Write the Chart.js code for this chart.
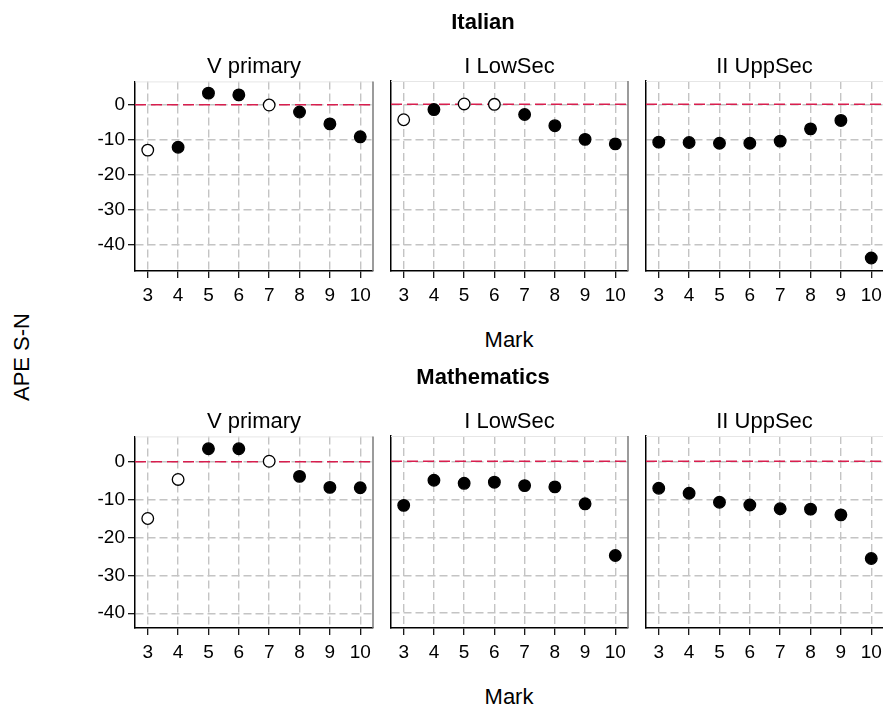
<!DOCTYPE html>
<html><head><meta charset="utf-8">
<script src="https://cdn.jsdelivr.net/npm/chart.js@4/dist/chart.umd.min.js"></script>
<style>
html,body{margin:0;padding:0;background:#fff;}
#wrap{position:relative;width:883px;height:704px;overflow:hidden;font-family:'Liberation Sans',Arial,sans-serif;color:#000;}
.t{position:absolute;white-space:nowrap;font-size:22px;line-height:22px;transform:translateX(-50%);}
.b{font-weight:bold;}
.rot{position:absolute;white-space:nowrap;font-size:22px;line-height:22px;transform:translate(-50%,-50%) rotate(-90deg);}
canvas{position:absolute;}
</style></head><body><div id="wrap"></div>
<script>
// ---- data ----
const marks = [3, 4, 5, 6, 7, 8, 9, 10];
const yTicks = [0, -10, -20, -30, -40];
const subjects = ['Italian', 'Mathematics'];
const levels = ['V primary', 'I LowSec', 'II UppSec'];
const xTitle = 'Mark';
const yTitle = 'APE S-N';
const refValue = 0;

const itaPrimary    = [-13.0, -12.2, 3.3, 2.8, -0.1, -2.1, -5.5, -9.2];
const itaPrimarySig = [0, 1, 1, 1, 0, 1, 1, 1];
const itaLowSec     = [-4.4, -1.5, 0.1, 0.0, -2.9, -6.1, -10.0, -11.3];
const itaLowSecSig  = [0, 1, 0, 0, 1, 1, 1, 1];
const itaUppSec     = [-10.8, -10.9, -11.1, -11.1, -10.5, -7.0, -4.6, -43.9];
const itaUppSecSig  = [1, 1, 1, 1, 1, 1, 1, 1];

const matPrimary    = [-15.0, -4.7, 3.4, 3.4, 0.1, -3.9, -6.8, -6.9];
const matPrimarySig = [0, 0, 1, 1, 0, 1, 1, 1];
const matLowSec     = [-11.6, -5.0, -5.8, -5.5, -6.4, -6.75, -11.2, -24.8];
const matLowSecSig  = [1, 1, 1, 1, 1, 1, 1, 1];
const matUppSec     = [-7.1, -8.4, -10.8, -11.5, -12.5, -12.6, -14.1, -25.6];
const matUppSecSig  = [1, 1, 1, 1, 1, 1, 1, 1];

const panelValues = [[itaPrimary, itaLowSec, itaUppSec], [matPrimary, matLowSec, matUppSec]];
const panelSig = [[itaPrimarySig, itaLowSecSig, itaUppSecSig], [matPrimarySig, matLowSecSig, matUppSecSig]];

// ---- layout ----
const FONT = "'Liberation Sans', Arial, sans-serif";
const cols = [{l:135, r:373}, {l:391, r:628}, {l:646, r:884}];
const rows = [{t:81, b:271, min:-47.6, max:6.66}, {t:436, b:628, min:-43.9, max:6.66}];
const xMin = 2.58, xMax = 10.42;
const wrap = document.getElementById('wrap');

function addText(txt, cx, baseline, cls){
  const d = document.createElement('div');
  d.className = 't ' + (cls || '');
  d.textContent = txt;
  d.style.left = cx + 'px';
  d.style.top = (baseline - 18.6) + 'px';
  wrap.appendChild(d);
}

const decor = {
  id: 'decor',
  beforeDatasetsDraw(chart){
    const {ctx, chartArea:a, scales:{y}} = chart;
    ctx.save();
    ctx.strokeStyle = '#e6e6e6'; ctx.lineWidth = 1;
    ctx.beginPath(); ctx.moveTo(a.left, a.top + 0.5); ctx.lineTo(a.right, a.top + 0.5); ctx.stroke();
    ctx.strokeStyle = '#7a7a7a'; ctx.lineWidth = 1.5;
    ctx.beginPath(); ctx.moveTo(a.right, a.top); ctx.lineTo(a.right, a.bottom); ctx.stroke();
    const py = y.getPixelForValue(refValue);
    ctx.strokeStyle = '#d81e4e'; ctx.lineWidth = 1.5; ctx.setLineDash([11, 5]);
    ctx.beginPath(); ctx.moveTo(a.left, py); ctx.lineTo(a.right, py); ctx.stroke();
    ctx.restore();
  }
};

rows.forEach((row, ri) => {
  cols.forEach((col, ci) => {
    const yW = ci === 0 ? 50 : 4;
    const padTop = 14, padR = 14, xH = 40;
    const cl = col.l - yW, ct = row.t - padTop;
    const cw = Math.round(col.r - cl + padR), ch = Math.round(row.b - ct + xH);
    const cv = document.createElement('canvas');
    cv.width = cw; cv.height = ch;
    cv.style.left = cl + 'px'; cv.style.top = ct + 'px';
    cv.style.width = cw + 'px'; cv.style.height = ch + 'px';
    wrap.appendChild(cv);
    const vals = panelValues[ri][ci], sig = panelSig[ri][ci];
    new Chart(cv, {
      type: 'scatter',
      data: { datasets: [{
        data: marks.map((m, i) => ({x: m, y: vals[i]})),
        pointRadius: 5.8, pointHoverRadius: 5.8,
        pointBorderWidth: 1.3, pointBorderColor: '#000',
        pointBackgroundColor: sig.map(s => s ? '#000' : '#fff'),
        showLine: false, clip: false
      }]},
      options: {
        responsive: false, animation: false, devicePixelRatio: 1,
        layout: {autoPadding: false, padding: {top: padTop, right: padR, left: 0, bottom: 0}},
        plugins: {legend: {display: false}, tooltip: {enabled: false}},
        scales: {
          x: {
            type: 'linear', min: xMin, max: xMax,
            afterBuildTicks: s => { s.ticks = marks.map(v => ({value: v})); },
            afterFit: s => { s.height = xH; },
            grid: {color: '#c4c4c4', lineWidth: 1.4, drawTicks: true, tickLength: 7, tickColor: '#000', tickWidth: 1.2, tickBorderDash: []},
            border: {display: true, color: '#000', width: 1.5, dash: [8, 4]},
            ticks: {font: {family: FONT, size: 19}, color: '#000', padding: 6, autoSkip: false, maxRotation: 0, callback: v => String(v)}
          },
          y: {
            type: 'linear', min: row.min, max: row.max,
            afterBuildTicks: s => { s.ticks = yTicks.map(v => ({value: v})); },
            afterFit: s => { s.width = yW; },
            grid: {color: '#c4c4c4', lineWidth: 1.4, drawTicks: ci === 0, tickLength: 7, tickColor: '#000', tickWidth: 1.2, tickBorderDash: []},
            border: {display: true, color: '#000', width: 1.5, dash: [8, 4]},
            ticks: {display: ci === 0, font: {family: FONT, size: 19}, color: '#000', padding: 3, callback: v => String(v)}
          }
        }
      },
      plugins: [decor]
    });
    addText(levels[ci], (col.l + Math.min(col.r, 883)) / 2 + (ci === 2 ? 0 : 0), row.t - 7);
  });
  addText(subjects[ri], 483, row.t - 51.7, 'b');
  addText(xTitle, 509, row.b + 76.5);
});

const yl = document.createElement('div');
yl.className = 'rot'; yl.textContent = yTitle;
yl.style.left = '21.7px'; yl.style.top = '356.7px';
wrap.appendChild(yl);
</script>
</body></html>
